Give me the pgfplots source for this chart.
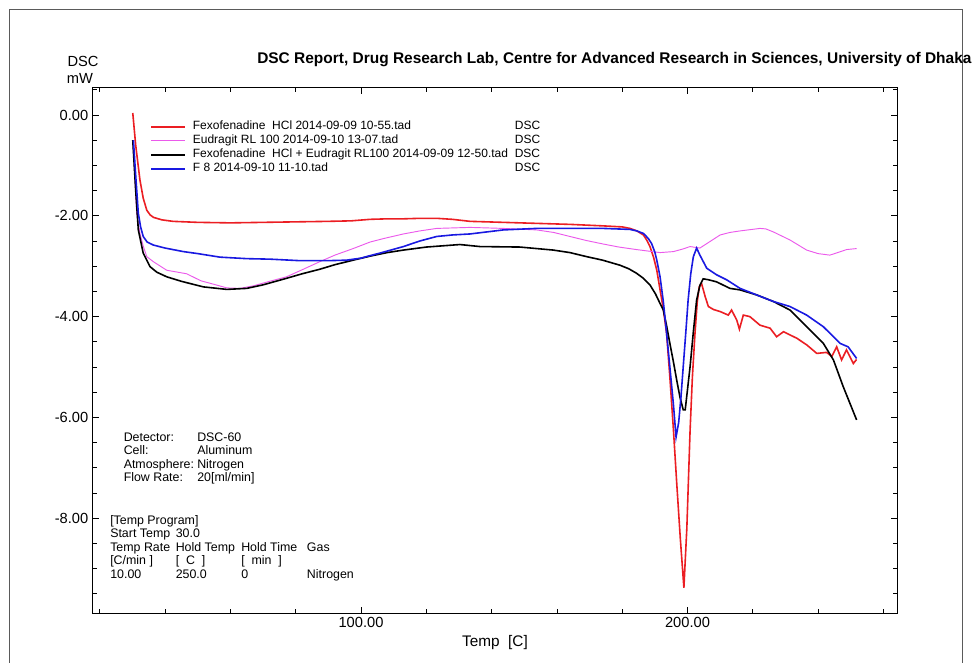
\documentclass[border=0pt]{standalone}
\usepackage{fontspec}
\setmainfont{Liberation Sans}
\usepackage{pgfplots}
\pgfplotsset{compat=1.18}
\usepackage{pgfplotstable}

\definecolor{dscred}{RGB}{235,30,35}
\definecolor{dscmag}{RGB}{235,90,235}
\definecolor{dscblue}{RGB}{25,25,225}
\definecolor{framegray}{RGB}{90,90,90}

\pgfplotstableread{
T v
30.1 0.04
31.0 -0.60
32.3 -1.29
33.3 -1.65
34.4 -1.89
35.4 -1.98
36.4 -2.03
39.0 -2.08
42.4 -2.11
50.0 -2.13
60.0 -2.14
70.0 -2.13
80.0 -2.12
90.0 -2.11
97.0 -2.10
102.8 -2.07
108.0 -2.06
113.0 -2.06
118.0 -2.05
123.2 -2.05
128.0 -2.07
133.4 -2.11
143.6 -2.13
153.8 -2.15
164.0 -2.17
174.2 -2.20
180.0 -2.22
182.4 -2.25
184.5 -2.30
186.5 -2.38
187.5 -2.48
188.5 -2.61
189.6 -2.82
190.6 -3.08
191.6 -3.47
192.6 -3.85
193.6 -4.33
194.6 -5.20
195.7 -6.25
196.7 -7.30
197.8 -8.40
198.9 -9.38
199.8 -8.20
200.8 -6.25
201.5 -5.20
202.3 -4.33
203.0 -3.70
203.6 -3.41
204.3 -3.34
205.4 -3.60
206.4 -3.80
208.0 -3.86
210.0 -3.90
212.5 -3.97
213.5 -3.87
215.1 -4.07
215.9 -4.25
217.1 -3.97
219.1 -4.00
222.2 -4.17
225.3 -4.23
227.3 -4.40
229.4 -4.30
233.5 -4.43
236.5 -4.56
239.6 -4.73
242.6 -4.71
244.2 -4.79
245.7 -4.60
247.2 -4.86
248.7 -4.66
250.8 -4.93
251.8 -4.85
}\redtab

\pgfplotstableread{
T v
30.1 -0.50
30.7 -1.20
31.3 -1.95
32.3 -2.35
33.3 -2.60
34.4 -2.81
36.4 -2.91
40.5 -3.08
46.6 -3.15
51.0 -3.29
55.0 -3.36
58.9 -3.43
62.9 -3.44
67.0 -3.39
72.0 -3.30
77.2 -3.21
82.0 -3.07
87.4 -2.91
92.0 -2.78
97.6 -2.65
102.8 -2.52
107.0 -2.45
113.0 -2.36
118.0 -2.30
123.2 -2.25
133.4 -2.23
143.6 -2.25
153.8 -2.28
159.0 -2.33
164.0 -2.41
169.0 -2.49
174.2 -2.56
179.0 -2.62
184.4 -2.67
188.0 -2.70
191.6 -2.73
195.7 -2.71
198.5 -2.66
200.8 -2.61
203.8 -2.64
206.9 -2.51
210.0 -2.38
213.0 -2.33
216.1 -2.30
222.2 -2.25
224.0 -2.26
226.3 -2.32
231.4 -2.48
236.5 -2.68
240.0 -2.75
243.6 -2.78
246.0 -2.73
248.7 -2.67
251.8 -2.65
}\magtab

\pgfplotstableread{
T v
30.1 -0.50
31.0 -1.50
31.8 -2.28
33.3 -2.74
35.4 -3.01
37.5 -3.12
40.5 -3.21
45.0 -3.30
51.7 -3.41
58.9 -3.46
65.0 -3.44
70.0 -3.37
77.2 -3.24
82.0 -3.15
87.4 -3.06
92.0 -2.97
97.6 -2.88
102.8 -2.80
108.0 -2.73
113.0 -2.68
120.0 -2.62
130.3 -2.57
136.4 -2.61
148.7 -2.62
158.9 -2.68
164.0 -2.73
169.1 -2.81
174.0 -2.88
179.3 -2.98
182.0 -3.05
184.4 -3.14
186.5 -3.24
188.5 -3.37
190.2 -3.55
191.6 -3.74
192.6 -3.87
193.6 -4.18
194.6 -4.53
195.7 -4.90
196.7 -5.26
197.7 -5.60
198.7 -5.85
199.3 -5.85
200.0 -5.45
200.8 -4.99
201.8 -4.30
202.8 -3.67
203.8 -3.38
204.8 -3.25
206.5 -3.27
208.9 -3.31
213.0 -3.44
216.1 -3.47
221.2 -3.57
226.3 -3.70
231.4 -3.87
236.5 -4.20
241.6 -4.53
244.7 -4.86
247.7 -5.39
251.8 -6.05
}\blacktab

\pgfplotstableread{
T v
30.3 -0.50
31.0 -1.20
31.8 -1.95
32.5 -2.22
33.3 -2.41
34.5 -2.52
36.4 -2.58
40.0 -2.64
45.6 -2.71
50.0 -2.75
56.8 -2.82
65.0 -2.85
72.1 -2.86
81.3 -2.89
90.0 -2.89
95.6 -2.88
100.0 -2.84
102.8 -2.79
105.8 -2.74
113.0 -2.61
118.0 -2.50
123.2 -2.41
128.0 -2.38
133.4 -2.36
143.6 -2.28
153.8 -2.25
164.0 -2.25
174.2 -2.25
182.4 -2.27
184.5 -2.30
186.5 -2.35
188.0 -2.45
189.0 -2.55
190.0 -2.72
190.6 -2.88
191.6 -3.21
192.6 -3.70
193.6 -4.33
194.6 -5.00
195.7 -5.75
196.5 -6.39
197.3 -6.10
198.0 -5.60
198.7 -4.99
199.5 -4.30
200.2 -3.67
201.0 -3.15
201.8 -2.81
202.8 -2.64
203.8 -2.78
205.9 -3.04
208.9 -3.17
212.0 -3.27
216.1 -3.44
221.2 -3.57
226.3 -3.70
231.4 -3.80
236.5 -3.97
241.6 -4.20
246.7 -4.53
249.2 -4.60
251.8 -4.83
}\bluetab

\begin{document}
\begin{tikzpicture}
\begin{axis}[
  scale only axis, width=603pt, height=393.75pt,
  xmin=17.92, xmax=264.17, ymin=-9.881, ymax=0.536,
  xtick={100,200}, xticklabels={100.00,200.00},
  ytick={-8,-6,-4,-2,0}, yticklabels={-8.00,-6.00,-4.00,-2.00,0.00},
  minor xtick={20,40,60,80,120,140,160,180,220,240,260},
  minor ytick={-9.5,-9,-8.5,-7.5,-7,-6.5,-5.5,-5,-4.5,-3.5,-3,-2.5,-1.5,-1,-0.5,0.5},
  tick align=inside, major tick length=4.5pt, minor tick length=3pt,
  tick style={black, line width=0.5pt},
  axis line style={line width=0.75pt},
  ticklabel style={font=\fontsize{11}{12}\selectfont},
  xlabel={Temp\ \ [C]},
  xlabel style={font=\fontsize{11.5}{12}\selectfont, at={(rel axis cs:0.5,0)}, anchor=base, yshift=-24.75pt},
  legend style={draw=none, fill=none, at={(rel axis cs:0.0709,0.9398)}, anchor=north west,
    inner sep=0pt, row sep=0pt,
    font=\fontsize{9}{10.5}\selectfont,
    nodes={inner sep=0pt, text height=7.5pt, text depth=3pt}},
  legend cell align=left,
  legend image code/.code={\draw[#1] (0pt,0pt) -- (25.5pt,0pt); \path (30.75pt,0pt);},
]
\addplot[dscred, line width=1.2pt] table[x=T,y=v] {\redtab};
\addlegendentry{\makebox[241.5pt][l]{Fexofenadine\ \ HCl 2014-09-09 10-55.tad}DSC}
\addplot[dscmag, line width=0.7pt] table[x=T,y=v] {\magtab};
\addlegendentry{\makebox[241.5pt][l]{Eudragit RL 100 2014-09-10 13-07.tad}DSC}
\addplot[black, line width=1.2pt] table[x=T,y=v] {\blacktab};
\addlegendentry{\makebox[241.5pt][l]{Fexofenadine\ \ HCl + Eudragit RL100 2014-09-09 12-50.tad}DSC}
\addplot[dscblue, line width=1.2pt] table[x=T,y=v] {\bluetab};
\addlegendentry{\makebox[241.5pt][l]{F 8 2014-09-10 11-10.tad}DSC}
\end{axis}
\begin{scope}[x=0.75pt, y=-0.75pt, shift={(-69.75pt,459.75pt)}]
  \draw[framegray, line width=0.75pt] (9.5,700) -- (9.5,10) -- (962,10) -- (962,700);
  \node[anchor=base west, inner sep=0pt, font=\bfseries\fontsize{11.6}{12}\selectfont] at (257,64)
    {DSC Report, Drug Research Lab, Centre for Advanced Research in Sciences, University of Dhaka};
  \node[anchor=base, inner sep=0pt, font=\fontsize{11}{12}\selectfont] at (83,66.7) {DSC};
  \node[anchor=base, inner sep=0pt, font=\fontsize{11}{12}\selectfont] at (80,84) {mW};
  \begin{scope}[every node/.style={anchor=base west, inner sep=0pt, font=\fontsize{9.3}{10}\selectfont}]
    \node at (123.5,441) {Detector:};   \node at (197,441) {DSC-60};
    \node at (123.5,454.5) {Cell:};     \node at (197,454.5) {Aluminum};
    \node at (123.5,468) {Atmosphere:}; \node at (197,468) {Nitrogen};
    \node at (123.5,481.5) {Flow Rate:};\node at (197,481.5) {20[ml/min]};
    \node at (110,524) {[Temp Program]};
    \node at (110,537.5) {Start Temp}; \node at (175.5,537.5) {30.0};
    \node at (110,551) {Temp Rate}; \node at (175.5,551) {Hold Temp}; \node at (241,551) {Hold Time}; \node at (306.7,551) {Gas};
    \node at (110,564.5) {[C/min ]}; \node at (175.5,564.5) {[\ \ C\ \ ]}; \node at (241,564.5) {[\ \ min\ \ ]};
    \node at (110,578.5) {10.00}; \node at (175.5,578.5) {250.0}; \node at (241,578.5) {0}; \node at (306.7,578.5) {Nitrogen};
  \end{scope}
  \pgfresetboundingbox
  \path[use as bounding box] (0,0) rectangle (972,662);
\end{scope}
\end{tikzpicture}
\end{document}
